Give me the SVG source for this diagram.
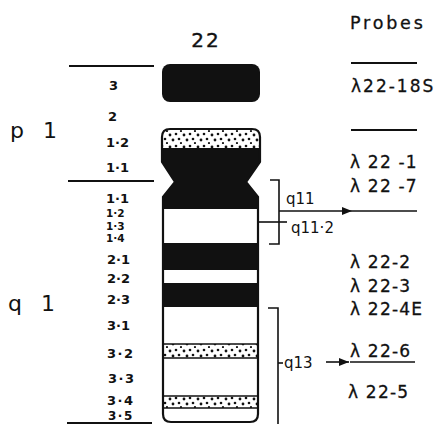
<svg xmlns="http://www.w3.org/2000/svg" width="447" height="424" viewBox="0 0 447 424">
  <style>
    .band { font-family: "DejaVu Sans", "Liberation Sans", sans-serif; font-weight: bold; font-size: 13px; fill: #111; }
    .arm { font-family: "DejaVu Sans", "Liberation Sans", sans-serif; font-size: 22px; fill: #111; word-spacing: 12px; }
    .probe { font-family: "DejaVu Sans", "Liberation Sans", sans-serif; font-size: 17px; fill: #111; letter-spacing: 1.2px; stroke: #111; stroke-width: 0.3; }
    .sub { font-family: "DejaVu Sans", "Liberation Sans", sans-serif; font-size: 15px; fill: #111; }
    .rule { stroke: #111; stroke-width: 2; fill: none; }
    .thin { stroke: #111; stroke-width: 1.6; fill: none; }
  </style>
  <defs>
    <pattern id="stipple" width="14" height="12" patternUnits="userSpaceOnUse">
      <rect width="14" height="12" fill="#fff"/>
      <circle cx="2" cy="3" r="1.4" fill="#111"/>
      <circle cx="8" cy="2" r="1.3" fill="#111"/>
      <circle cx="5" cy="8" r="1.4" fill="#111"/>
      <circle cx="11" cy="7" r="1.3" fill="#111"/>
      <circle cx="13" cy="11" r="1.1" fill="#111"/>
    </pattern>
    <clipPath id="bodyClip">
      <path d="M162,137 Q162,129 170,129 L252,129 Q260,129 260,137 L260,162 L246,182 L258,197 L258,414 Q258,422 250,422 L171,422 Q163,422 163,414 L163,197 L175,182 L162,162 Z"/>
    </clipPath>
    <marker id="arrow" viewBox="0 0 10 8" refX="10" refY="4" markerWidth="10" markerHeight="8" markerUnits="userSpaceOnUse" orient="auto">
      <path d="M0,0 L10,4 L0,8 Z" fill="#111"/>
    </marker>
  </defs>

  <!-- chromosome title and arm labels -->
  <text x="206" y="47" text-anchor="middle" class="arm" style="font-size:20px;letter-spacing:2px;stroke:#111;stroke-width:0.4">22</text>
  <text x="10" y="138" class="arm">p 1</text>
  <text x="8" y="311" class="arm">q 1</text>
  <text x="350" y="29" class="probe" style="font-size:17.5px;letter-spacing:2.8px">Probes</text>

  <!-- arm boundary rules -->
  <line x1="69" y1="66" x2="154" y2="66" class="rule"/>
  <line x1="68" y1="181" x2="154" y2="181" class="rule"/>
  <line x1="67" y1="423" x2="152" y2="423" class="rule"/>

  <!-- chromosome 22 ideogram -->
  <g id="p13">
    <rect x="162" y="64" width="98" height="38" rx="8" fill="#111"/>
  </g>
  <g id="body">
    <g clip-path="url(#bodyClip)">
      <rect x="150" y="125" width="120" height="300" fill="#fff"/>
      <rect x="150" y="125" width="120" height="23" fill="url(#stipple)"/>
      <rect x="150" y="148" width="120" height="61" fill="#111"/>
      <rect x="150" y="243" width="120" height="27" fill="#111"/>
      <rect x="150" y="283" width="120" height="24" fill="#111"/>
      <rect x="150" y="344" width="120" height="14" fill="url(#stipple)"/>
      <rect x="150" y="396" width="120" height="12" fill="url(#stipple)"/>
      <line x1="150" y1="344" x2="270" y2="344" class="thin"/>
      <line x1="150" y1="358" x2="270" y2="358" class="thin"/>
      <line x1="150" y1="396" x2="270" y2="396" class="thin"/>
      <line x1="150" y1="408" x2="270" y2="408" class="thin"/>
    </g>
    <path d="M162,137 Q162,129 170,129 L252,129 Q260,129 260,137 L260,162 L246,182 L258,197 L258,414 Q258,422 250,422 L171,422 Q163,422 163,414 L163,197 L175,182 L162,162 Z" fill="none" stroke="#111" stroke-width="2.2"/>
  </g>

  <!-- band labels -->
  <g id="band-labels">
    <text x="109" y="90" class="band">3</text>
    <text x="108" y="121" class="band">2</text>
    <text x="106" y="147" class="band">1·2</text>
    <text x="106" y="172" class="band">1·1</text>
    <text x="106" y="203" class="band">1·1</text>
    <text x="106" y="217" class="band" style="font-size:10.5px">1·2</text>
    <text x="106" y="229.5" class="band" style="font-size:10.5px">1·3</text>
    <text x="106" y="242" class="band" style="font-size:10.5px">1·4</text>
    <text x="107" y="264" class="band">2·1</text>
    <text x="107" y="283" class="band">2·2</text>
    <text x="107" y="304" class="band">2·3</text>
    <text x="107" y="330" class="band">3·1</text>
    <text x="107" y="358" class="band" style="letter-spacing:1.5px">3·2</text>
    <text x="108" y="383" class="band" style="letter-spacing:1.5px">3·3</text>
    <text x="107" y="405" class="band" style="letter-spacing:1.5px">3·4</text>
    <text x="108" y="420" class="band" style="font-size:12px;letter-spacing:1.5px">3·5</text>
  </g>

  <!-- region brackets and pointers -->
  <g id="connectors">
    <path d="M270,180 L279,180 L279,244 L269,244" class="thin"/>
    <line x1="258" y1="222" x2="287" y2="222" class="thin"/>
    <line x1="279" y1="211" x2="352" y2="211" class="thin" marker-end="url(#arrow)"/>
    <line x1="352" y1="211" x2="417" y2="211" class="thin"/>
    <path d="M268,308 L278,308 L278,424" class="thin"/>
    <line x1="278" y1="363" x2="283" y2="363" class="thin"/>
    <line x1="326" y1="362" x2="349" y2="362" class="thin" marker-end="url(#arrow)"/>
  </g>
  <g id="region-labels">
    <text x="286" y="204" class="sub">q11</text>
    <text x="291" y="233" class="sub">q11·2</text>
    <text x="284" y="368" class="sub">q13</text>
  </g>

  <!-- probe list -->
  <g id="probes">
    <line x1="351" y1="63" x2="417" y2="63" class="rule"/>
    <text x="351" y="92" class="probe" style="letter-spacing:2px">λ22-18S</text>
    <line x1="351" y1="130" x2="417" y2="130" class="rule"/>
    <text x="350" y="168" class="probe">λ 22 -1</text>
    <text x="350" y="192" class="probe">λ 22 -7</text>
    <text x="350" y="268" class="probe">λ 22-2</text>
    <text x="350" y="292" class="probe">λ 22-3</text>
    <text x="350" y="315" class="probe">λ 22-4E</text>
    <text x="350" y="357" class="probe">λ 22-6</text>
    <line x1="350" y1="362" x2="415" y2="362" class="thin"/>
    <text x="348" y="398" class="probe">λ 22-5</text>
  </g>
</svg>
